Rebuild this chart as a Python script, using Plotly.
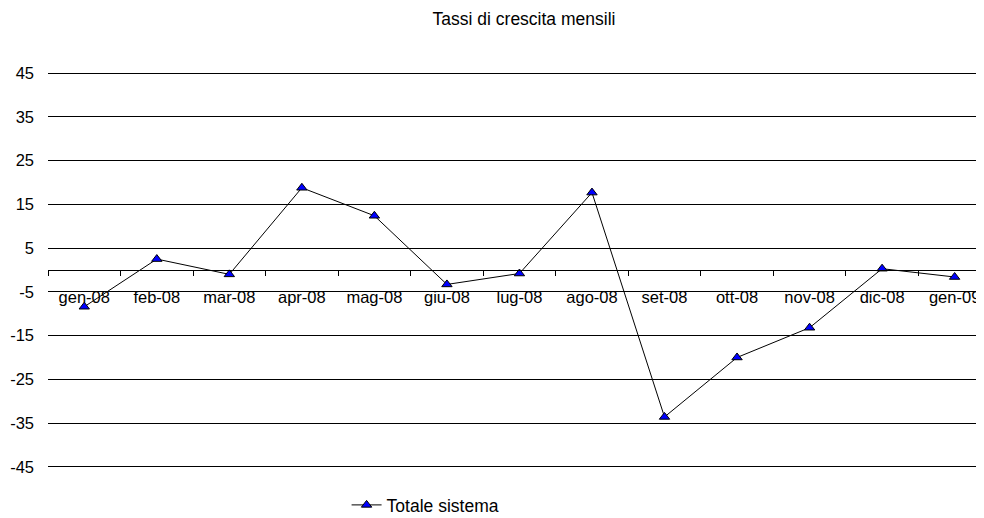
import plotly.graph_objects as go

months = ["gen-08", "feb-08", "mar-08", "apr-08", "mag-08", "giu-08", "lug-08",
          "ago-08", "set-08", "ott-08", "nov-08", "dic-08", "gen-09"]
totale_sistema = [-8.4, 2.5, -1.0, 18.8, 12.4, -3.3, -0.8, 17.7, -33.6, -20.0, -13.2, 0.3, -1.6]
y_ticks = [45, 35, 25, 15, 5, -5, -15, -25, -35, -45]

FONT = "Liberation Sans, Arial, sans-serif"

fig = go.Figure()
fig.add_trace(go.Scatter(
    x=months, y=totale_sistema, mode="lines+markers", name="Totale sistema",
    line=dict(color="black", width=1),
    marker=dict(symbol="triangle-up", size=9, color="#0000FF",
                line=dict(color="black", width=1)),
))

# the page body has an 8px margin, so the figure is sized to fit the 984x518 window
fig.update_layout(
    width=976, height=510,
    margin=dict(l=40, r=0, t=63, b=49, autoexpand=False),
    paper_bgcolor="white", plot_bgcolor="white",
    font=dict(family=FONT, size=16, color="black"),
    title=dict(text="Tassi di crescita mensili", x=0.5287, xanchor="center",
               y=1 - 11 / 510, yanchor="middle",
               font=dict(family=FONT, size=17.5, color="black")),
    showlegend=True,
    legend=dict(orientation="h", x=0.319, xanchor="left", y=-0.0905, yanchor="middle",
                font=dict(family=FONT, size=17.5, color="black"),
                bgcolor="rgba(0,0,0,0)"),
    xaxis=dict(type="category", range=[-0.5, 12.405], anchor="free", position=0.5,
               showline=True, linecolor="black", linewidth=1,
               ticks="outside", tickson="boundaries", ticklen=5, tickcolor="black",
               ticklabelstandoff=12, showgrid=False, zeroline=False, automargin=False,
               tickfont=dict(family=FONT, size=16.5, color="black")),
    yaxis=dict(range=[-45.5, 45.5], tickvals=y_ticks, ticktext=[str(v) for v in y_ticks],
               showgrid=True, gridcolor="black", gridwidth=1,
               zeroline=False, showline=False, ticks="", automargin=False,
               ticklabelstandoff=13,
               tickfont=dict(family=FONT, size=16.5, color="black")),
)

fig.write_html("out.html")
